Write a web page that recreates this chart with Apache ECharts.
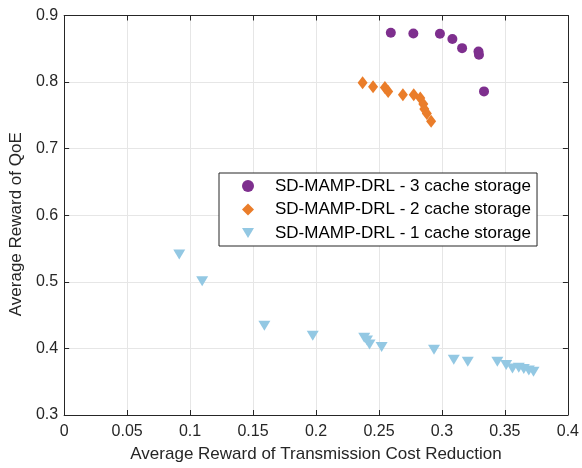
<!DOCTYPE html>
<html>
<head>
<meta charset="utf-8">
<script src="https://cdn.jsdelivr.net/npm/echarts@6/dist/echarts.min.js"></script>
<style>
html,body{margin:0;padding:0;background:#fff;}
#chart{width:582px;height:468px;}
</style>
</head>
<body>
<div id="chart"></div>
<script>
var seriesNames = ['SD-MAMP-DRL - 3 cache storage', 'SD-MAMP-DRL - 2 cache storage', 'SD-MAMP-DRL - 1 cache storage'];
var xTicks = [0, 0.05, 0.1, 0.15, 0.2, 0.25, 0.3, 0.35, 0.4];
var yTicks = [0.3, 0.4, 0.5, 0.6, 0.7, 0.8, 0.9];

var cache3X = [0.2594, 0.2773, 0.2984, 0.3083, 0.3160, 0.3290, 0.3294, 0.3334];
var cache3Y = [0.874, 0.873, 0.8725, 0.8646, 0.851, 0.846, 0.841, 0.786];

var cache2X = [0.2370, 0.2453, 0.2547, 0.2573, 0.2690, 0.2776, 0.2828, 0.2852, 0.2860, 0.2880, 0.2914];
var cache2Y = [0.799, 0.793, 0.792, 0.786, 0.781, 0.781, 0.776, 0.767, 0.7596, 0.753, 0.741];

var cache1X = [0.0914, 0.1096, 0.1590, 0.1974, 0.2383, 0.2405, 0.2425, 0.2521, 0.2937, 0.3094, 0.3205, 0.3440, 0.3510, 0.3560, 0.3610, 0.3650, 0.3690, 0.3727];
var cache1Y = [0.541, 0.501, 0.434, 0.419, 0.416, 0.412, 0.406, 0.402, 0.398, 0.383, 0.380, 0.380, 0.375, 0.370, 0.371, 0.369, 0.367, 0.365];

function zip(xs, ys) { return xs.map(function (x, i) { return [x, ys[i]]; }); }

var axisColor = '#262626';
var gridColor = '#e6e6e6';
var fontFam = '"Liberation Sans", Arial, Helvetica, sans-serif';

var chart = echarts.init(document.getElementById('chart'), null, {renderer: 'canvas'});

function xAxisDef(pos, main) {
  return {
    type: 'value', position: pos, min: xTicks[0], max: xTicks[xTicks.length - 1], interval: 0.05,
    name: main ? 'Average Reward of Transmission Cost Reduction' : '',
    nameLocation: 'middle', nameGap: 31,
    nameTextStyle: {fontSize: 17, color: axisColor, fontFamily: fontFam},
    axisLine: {show: true, onZero: false, lineStyle: {color: axisColor, width: 1}},
    axisTick: {show: true, inside: true, length: 5, lineStyle: {color: axisColor}},
    axisLabel: {show: main, margin: 9, fontSize: 16, color: axisColor, fontFamily: fontFam,
      formatter: function (v) { return String(Math.round(v * 100) / 100); }},
    splitLine: {show: main, lineStyle: {color: gridColor, width: 1}}
  };
}
function yAxisDef(pos, main) {
  return {
    type: 'value', position: pos, min: yTicks[0], max: yTicks[yTicks.length - 1], interval: 0.1,
    name: main ? 'Average Reward of QoE' : '',
    nameLocation: 'middle', nameGap: 30,
    nameTextStyle: {fontSize: 17, color: axisColor, fontFamily: fontFam, padding: [0, 18, 0, 0]},
    axisLine: {show: true, onZero: false, lineStyle: {color: axisColor, width: 1}},
    axisTick: {show: true, inside: true, length: 5, lineStyle: {color: axisColor}},
    axisLabel: {show: main, margin: 6, fontSize: 16, color: axisColor, fontFamily: fontFam,
      formatter: function (v) { return v.toFixed(1); }},
    splitLine: {show: main, lineStyle: {color: gridColor, width: 1}}
  };
}

var triPath = 'path://M0,0L12,0L6,10Z';

chart.setOption({
  animation: false,
  backgroundColor: '#ffffff',
  grid: {left: 59, right: 11, top: 15.5, bottom: 49, containLabel: false},
  xAxis: [xAxisDef('bottom', true), xAxisDef('top', false)],
  yAxis: [yAxisDef('left', true), yAxisDef('right', false)],
  legend: {
    orient: 'vertical', left: 219, top: 173,
    backgroundColor: '#ffffff', borderColor: axisColor, borderWidth: 1, borderRadius: 0,
    padding: [3, 6, 3, 23], itemGap: 3.5, itemWidth: 12, itemHeight: 12,
    textStyle: {fontSize: 17, color: '#000000', fontFamily: fontFam, lineHeight: 20, padding: [0, 0, 0, 16]},
    data: seriesNames
  },
  series: [
    {name: seriesNames[0], type: 'scatter', xAxisIndex: 0, yAxisIndex: 0,
      symbol: 'circle', symbolSize: 10, itemStyle: {color: '#7E2F8E', opacity: 1},
      data: zip(cache3X, cache3Y)},
    {name: seriesNames[1], type: 'scatter', xAxisIndex: 0, yAxisIndex: 0,
      symbol: 'diamond', symbolSize: [10, 13], itemStyle: {color: '#EA7D2A', opacity: 1},
      data: zip(cache2X, cache2Y)},
    {name: seriesNames[2], type: 'scatter', xAxisIndex: 0, yAxisIndex: 0,
      symbol: triPath, symbolSize: [12, 10], itemStyle: {color: '#93C8E3', opacity: 1},
      data: zip(cache1X, cache1Y)}
  ]
});
</script>
</body>
</html>
